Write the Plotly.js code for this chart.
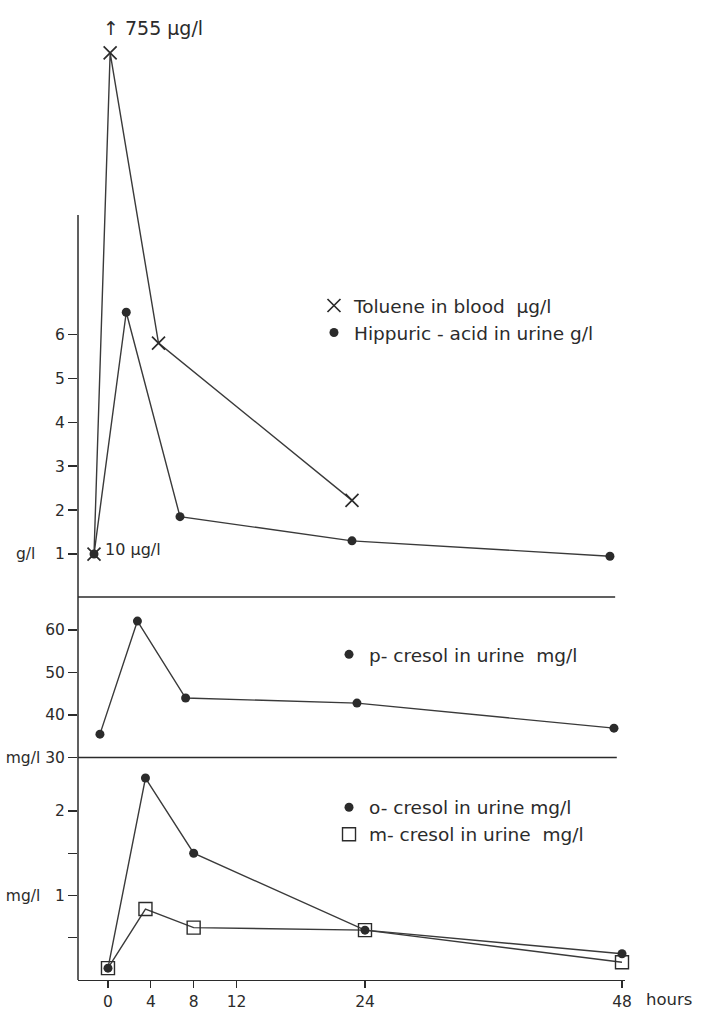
<!DOCTYPE html>
<html>
<head>
<meta charset="utf-8">
<script src="https://cdn.plot.ly/plotly-3.0.1.min.js"></script>
<style>
  html, body { margin: 0; padding: 0; background: #ffffff; }
  #chart { width: 707px; height: 1010px; }
</style>
</head>
<body>
<div id="chart"></div>
<script>
// ---------------- data ----------------
// Top panel: toluene in blood (plotted on the g/l scale, 1 = 10 µg/l; 2nd point off-scale: 755 µg/l)
const tolueneHours = [0, 1.5, 6, 24];
const tolueneScale = [1.0, 12.4, 5.8, 2.22];
// Top panel: hippuric acid in urine, g/l
const hippuricHours = [0, 3, 8, 24, 48];
const hippuricGL = [1.0, 6.5, 1.85, 1.3, 0.95];
// Middle panel: p-cresol in urine, mg/l
const pCresolHours = [0, 3.5, 8, 24, 48];
const pCresolMgL = [35.5, 62.1, 44.0, 42.8, 36.9];
// Bottom panel: o-cresol and m-cresol in urine, mg/l
const oCresolHours = [0, 3.5, 8, 24, 48];
const oCresolMgL = [0.14, 2.39, 1.5, 0.59, 0.31];
const mCresolHours = [0, 3.5, 8, 24, 48];
const mCresolMgL = [0.14, 0.84, 0.62, 0.59, 0.21];

// tick labels
const hourTicks = [0, 4, 8, 12, 24, 48];
const hourTickLabels = ['0', '4', '8', '12', '24', '48'];
const topTicks = [1, 2, 3, 4, 5, 6];
const topTickLabels = ['g/l\u00a0\u00a0\u00a0\u00a01', '2', '3', '4', '5', '6'];
const midTicks = [30, 40, 50, 60];
const midTickLabels = ['mg/l\u00a030', '40', '50', '60'];
const botTicks = [0.5, 1, 1.5, 2];
const botTickLabels = ['', 'mg/l\u00a0\u00a0\u00a01', '', '2'];

const legendNames = {
  toluene: 'Toluene in blood  µg/l',
  hippuric: 'Hippuric - acid in urine g/l',
  pcresol: 'p- cresol in urine  mg/l',
  ocresol: 'o- cresol in urine mg/l',
  mcresol: 'm- cresol in urine  mg/l'
};

// ---------------- styling ----------------
const INK = '#2b2b2b';
const LINE = { color: '#3a3a3a', width: 1.4 };
const DOT = { symbol: 'circle', size: 9, color: INK };
const CROSS = { symbol: 'x-thin', size: 13, color: INK, line: { color: INK, width: 1.7 } };
const SQUARE = { symbol: 'square-open', size: 13, color: INK, line: { width: 1.4 } };

function series(x, y, xa, ya, marker, name, legend) {
  return {
    type: 'scatter', mode: 'lines+markers', x: x, y: y, xaxis: xa, yaxis: ya,
    line: LINE, marker: marker, name: name, showlegend: false, legend: legend,
    cliponaxis: false, hoverinfo: 'skip'
  };
}
function legendOnly(xa, ya, marker, name, legend) {
  return {
    type: 'scatter', mode: 'markers', x: [null], y: [null], xaxis: xa, yaxis: ya,
    marker: marker, name: name, showlegend: true, legend: legend, hoverinfo: 'skip'
  };
}

const traces = [
  series(tolueneHours, tolueneScale, 'x3', 'y3', CROSS, legendNames.toluene, 'legend'),
  series(hippuricHours, hippuricGL, 'x3', 'y3', DOT, legendNames.hippuric, 'legend'),
  series(pCresolHours, pCresolMgL, 'x2', 'y2', DOT, legendNames.pcresol, 'legend2'),
  series(mCresolHours, mCresolMgL, 'x', 'y', SQUARE, legendNames.mcresol, 'legend3'),
  series(oCresolHours, oCresolMgL, 'x', 'y', DOT, legendNames.ocresol, 'legend3'),
  legendOnly('x3', 'y3', CROSS, legendNames.toluene, 'legend'),
  legendOnly('x3', 'y3', DOT, legendNames.hippuric, 'legend'),
  legendOnly('x2', 'y2', DOT, legendNames.pcresol, 'legend2'),
  legendOnly('x', 'y', DOT, legendNames.ocresol, 'legend3'),
  legendOnly('x', 'y', SQUARE, legendNames.mcresol, 'legend3')
];

const yBase = {
  showgrid: false, zeroline: false, showline: false, ticks: 'outside', ticklen: 9,
  tickwidth: 1.3, tickcolor: INK, tickfont: { size: 15.5, color: INK }, fixedrange: true
};
const xHidden = { visible: false, showgrid: false, zeroline: false, fixedrange: true };
const legendBase = {
  xanchor: 'left', yanchor: 'top', bgcolor: 'rgba(0,0,0,0)', borderwidth: 0,
  font: { size: 18.5, color: INK }, tracegroupgap: 0, itemclick: false
};

const layout = {
  width: 707, height: 1010,
  margin: { l: 78, r: 82, t: 5, b: 30 },
  paper_bgcolor: '#ffffff', plot_bgcolor: '#ffffff',
  font: { family: 'DejaVu Sans, sans-serif', color: INK },
  showlegend: true,
  // bottom panel (o-/m-cresol) with the visible hours axis
  xaxis: {
    domain: [0, 1], range: [-2.80, 48.28], anchor: 'y',
    tickmode: 'array', tickvals: hourTicks, ticktext: hourTickLabels,
    ticks: 'outside', ticklen: 7, tickwidth: 1.3, tickcolor: INK,
    tickfont: { size: 15.5, color: INK },
    showline: true, linecolor: INK, linewidth: 1.4, mirror: false,
    showgrid: false, zeroline: false, fixedrange: true
  },
  yaxis: Object.assign({}, yBase, {
    domain: [0, 0.2282], range: [0, 2.633], anchor: 'x',
    tickmode: 'array', tickvals: botTicks, ticktext: botTickLabels
  }),
  // middle panel (p-cresol)
  xaxis2: Object.assign({}, xHidden, { domain: [0, 1], range: [-2.05, 49.03], anchor: 'y2' }),
  yaxis2: Object.assign({}, yBase, {
    domain: [0.2282, 0.3918], range: [30, 67.53], anchor: 'x2',
    tickmode: 'array', tickvals: midTicks, ticktext: midTickLabels
  }),
  // top panel (toluene, hippuric acid)
  xaxis3: Object.assign({}, xHidden, { domain: [0, 1], range: [-1.49, 49.40], anchor: 'y3' }),
  yaxis3: Object.assign({}, yBase, {
    domain: [0.3918, 1], range: [0, 13.49], anchor: 'x3',
    tickmode: 'array', tickvals: topTicks, ticktext: topTickLabels
  }),
  legend: Object.assign({}, legendBase, { x: 0.4314, y: 0.7108 }),
  legend2: Object.assign({}, legendBase, { x: 0.4589, y: 0.353 }),
  legend3: Object.assign({}, legendBase, { x: 0.4589, y: 0.1962 }),
  shapes: [
    // vertical axis line (the top part stops above the "6" tick)
    { type: 'line', xref: 'paper', yref: 'paper', x0: 0, x1: 0, y0: 0, y1: 0.7846,
      line: { color: INK, width: 1.5 } },
    // separator between top and middle panels
    { type: 'line', xref: 'paper', yref: 'paper', x0: 0, x1: 0.982, y0: 0.3928, y1: 0.3928,
      line: { color: INK, width: 1.3 } },
    // separator between middle and bottom panels
    { type: 'line', xref: 'paper', yref: 'paper', x0: 0, x1: 0.985, y0: 0.2282, y1: 0.2282,
      line: { color: INK, width: 1.3 } }
  ],
  annotations: [
    { xref: 'paper', yref: 'paper', x: 0.042, y: 0.9764, xanchor: 'left', yanchor: 'middle',
      text: '↑ 755 µg/l', showarrow: false, font: { size: 19, color: INK } },
    { xref: 'paper', yref: 'paper', x: 0.0457, y: 0.4415, xanchor: 'left', yanchor: 'middle',
      text: '10 µg/l', showarrow: false, font: { size: 16, color: INK } },
    { xref: 'paper', yref: 'paper', x: 1.035, y: -0.0195, xanchor: 'left', yanchor: 'middle',
      text: 'hours', showarrow: false, font: { size: 16.5, color: INK } }
  ]
};

Plotly.newPlot('chart', traces, layout, { displayModeBar: false, staticPlot: true });
</script>
</body>
</html>
